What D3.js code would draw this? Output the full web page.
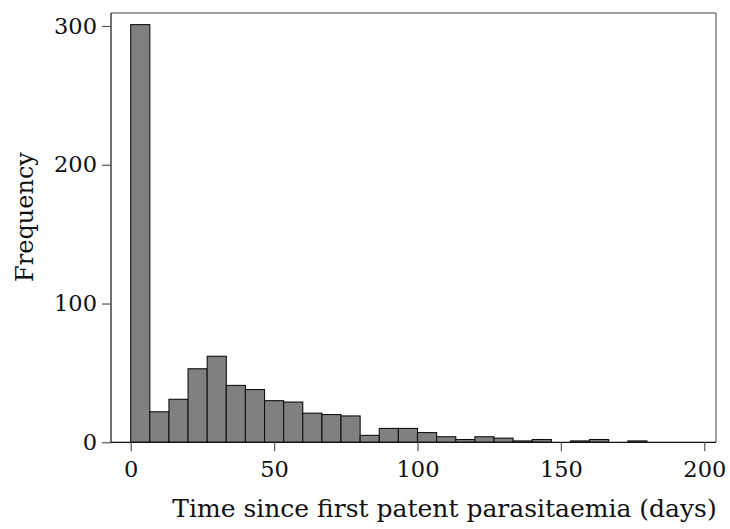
<!DOCTYPE html>
<html>
<head>
<meta charset="utf-8">
<script src="https://cdn.jsdelivr.net/npm/d3@7"></script>
<style>
  html, body { margin: 0; padding: 0; background: #fff; }
  svg { display: block; }
  text { font-family: "DejaVu Serif", "Liberation Serif", serif; fill: #111; }
</style>
</head>
<body>
<script>
// Histogram of days since first patent parasitaemia
const binWidth = 20 / 3;               // days per bin
const counts = [301, 22, 31, 53, 62, 41, 38, 30, 29, 21, 20, 19, 5, 10, 10,
                7, 4, 2, 4, 3, 1, 2, 0, 1, 2, 0, 1];
const xTicks = [0, 50, 100, 150, 200];
const yTicks = [0, 100, 200, 300];
const xTitle = "Time since first patent parasitaemia (days)";
const yTitle = "Frequency";

const W = 730, H = 529;
const frame = { left: 111, right: 716, top: 13, bottom: 442.3 };

const svg = d3.select("body").append("svg")
  .attr("width", W).attr("height", H);

svg.append("rect").attr("width", W).attr("height", H).attr("fill", "#fff");

const x = d3.scaleLinear().domain([0, 200]).range([130.7, 704.3]);
const y = d3.scaleLinear().domain([0, 300]).range([frame.bottom, 26]);

const bins = counts.map((c, i) => ({ x0: i * binWidth, x1: (i + 1) * binWidth, n: c }));

// bars
svg.append("g").selectAll("rect")
  .data(bins.filter(d => d.n > 0))
  .join("rect")
  .attr("x", d => x(d.x0))
  .attr("y", d => y(d.n))
  .attr("width", d => x(d.x1) - x(d.x0))
  .attr("height", d => y(0) - y(d.n))
  .attr("fill", "#808080")
  .attr("stroke", "#111")
  .attr("stroke-width", 1.1);

// plot frame: top and right edges in grey
svg.append("line")
  .attr("x1", frame.left).attr("x2", frame.right)
  .attr("y1", frame.top).attr("y2", frame.top)
  .attr("stroke", "#444").attr("stroke-width", 1.2);
svg.append("line")
  .attr("x1", frame.right).attr("x2", frame.right)
  .attr("y1", frame.top).attr("y2", frame.bottom)
  .attr("stroke", "#777").attr("stroke-width", 1.4);

// y axis
const yAxis = svg.append("g")
  .attr("transform", `translate(${frame.left},0)`)
  .call(d3.axisLeft(y).tickValues(yTicks).tickSize(9).tickPadding(5).tickSizeOuter(0));
yAxis.select(".domain").attr("d", `M0,${frame.top}V${frame.bottom}`).attr("stroke", "#111").attr("stroke-width", 1.2);
yAxis.selectAll(".tick line").attr("stroke", "#555").attr("stroke-width", 1.2);
yAxis.selectAll(".tick text")
  .style("font-family", "DejaVu Serif").style("font-size", "22.5px").attr("fill", "#111");

// x axis
const xAxis = svg.append("g")
  .attr("transform", `translate(0,${frame.bottom})`)
  .call(d3.axisBottom(x).tickValues(xTicks).tickSize(9).tickPadding(10).tickSizeOuter(0));
xAxis.select(".domain").attr("d", `M${frame.left},0H${frame.right}`).attr("stroke", "#111").attr("stroke-width", 1.2);
xAxis.selectAll(".tick line").attr("stroke", "#555").attr("stroke-width", 1.2);
xAxis.selectAll(".tick text")
  .style("font-family", "DejaVu Serif").style("font-size", "22.5px").attr("fill", "#111");

// axis titles
svg.append("text")
  .attr("x", 444.5).attr("y", 517)
  .attr("text-anchor", "middle")
  .style("font-size", "25px")
  .text(xTitle);

svg.append("text")
  .attr("transform", "translate(33,217) rotate(-90)")
  .attr("text-anchor", "middle")
  .style("font-size", "24px")
  .text(yTitle);
</script>
</body>
</html>
